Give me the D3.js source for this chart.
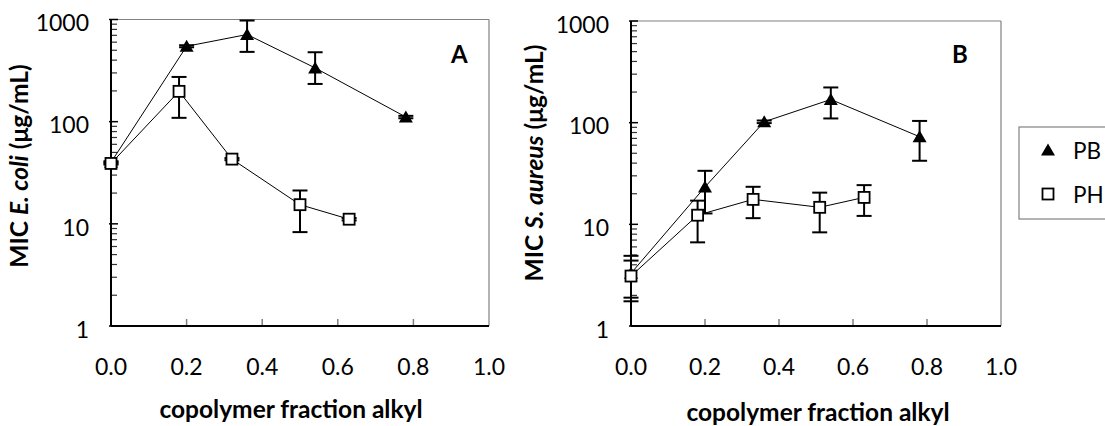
<!DOCTYPE html>
<html>
<head>
<meta charset="utf-8">
<script src="https://cdn.jsdelivr.net/npm/d3@7"></script>
<style>
  body { margin: 0; background: #fff; }
  text { font-family: Lato, "Liberation Sans", sans-serif; fill: #000; }
</style>
</head>
<body>
<div id="chart"></div>
<script>
// Data
const xTicks = [0, 0.2, 0.4, 0.6, 0.8, 1.0];
const yTicks = [1, 10, 100, 1000];

// Panel A: E. coli
const xA_PB = [0, 0.2, 0.36, 0.54, 0.78];
const micA_PB = [40, 547, 713, 336, 111];
const hiA_PB = [41, 560, 977, 478, 114];
const loA_PB = [39, 535, 482, 234, 108];

const xA_PH = [0, 0.18, 0.32, 0.50, 0.63];
const micA_PH = [39, 198, 43, 15.4, 11.1];
const hiA_PH = [40, 274, 44, 21.2, 11.4];
const loA_PH = [38, 109, 42, 8.3, 10.8];

// Panel B: S. aureus
const xB_PB = [0, 0.2, 0.36, 0.54, 0.78];
const micB_PB = [3.3, 23.3, 102, 169, 72.7];
const hiB_PB = [4.9, 33.6, 105, 222, 104];
const loB_PB = [1.9, 12.8, 99, 110, 42.2];

const xB_PH = [0, 0.18, 0.33, 0.51, 0.63];
const micB_PH = [3.1, 12.3, 17.6, 14.7, 18.4];
const hiB_PH = [4.4, 17.1, 23.4, 20.5, 24.3];
const loB_PH = [1.75, 6.65, 11.5, 8.34, 12.1];

const seriesNames = ["PB", "PH"];

const svg = d3.select("#chart")
  .append("svg")
  .attr("width", 1105)
  .attr("height", 426);

function zip(xs, ys, his, los) {
  return xs.map((x, i) => ({ x: x, y: ys[i], hi: his[i], lo: los[i] }));
}

const triPath = "M0,-6.5L7,5.5L-7,5.5Z";

function drawPanel(p) {
  const x = d3.scaleLinear().domain([0, 1]).range([p.left, p.right]);
  const y = d3.scaleLog().domain([1, 1000]).range([p.bottom, p.top]);
  const g = svg.append("g");

  // frame: top and right grey
  g.append("line").attr("x1", p.left).attr("x2", p.right).attr("y1", p.top).attr("y2", p.top)
    .attr("stroke", "#808080").attr("stroke-width", 1.2);
  g.append("line").attr("x1", p.right).attr("x2", p.right).attr("y1", p.top).attr("y2", p.bottom)
    .attr("stroke", "#808080").attr("stroke-width", 1.2);

  // x ticks (inside, grey)
  g.selectAll(".xt").data(xTicks.slice(1, -1)).enter().append("line")
    .attr("x1", d => x(d)).attr("x2", d => x(d))
    .attr("y1", p.bottom).attr("y2", p.bottom - 7)
    .attr("stroke", "#808080").attr("stroke-width", 1.5);

  // y minor ticks (log)
  const minors = [];
  for (let dec = 1; dec < 1000; dec *= 10) {
    for (let k = 2; k <= 9; k++) minors.push(dec * k);
  }
  g.selectAll(".ymin").data(minors).enter().append("line")
    .attr("x1", p.left).attr("x2", p.left + 6)
    .attr("y1", d => y(d)).attr("y2", d => y(d))
    .attr("stroke", "#333").attr("stroke-width", 1.2);
  g.selectAll(".ymaj").data(yTicks).enter().append("line")
    .attr("x1", p.left - 2).attr("x2", p.left + 7)
    .attr("y1", d => y(d)).attr("y2", d => y(d))
    .attr("stroke", "#000").attr("stroke-width", 1.5);

  // axes lines
  g.append("line").attr("x1", p.left).attr("x2", p.right).attr("y1", p.bottom).attr("y2", p.bottom)
    .attr("stroke", "#000").attr("stroke-width", 2);
  g.append("line").attr("x1", p.left).attr("x2", p.left).attr("y1", p.top).attr("y2", p.bottom)
    .attr("stroke", "#000").attr("stroke-width", 2);

  // tick labels
  g.selectAll(".yl").data(yTicks).enter().append("text")
    .attr("x", p.left - 22).attr("y", d => y(d) + 11.7)
    .attr("text-anchor", "end").style("font-size", "23px")
    .text(d => d);
  g.selectAll(".xl").data(xTicks).enter().append("text")
    .attr("x", d => x(d)).attr("y", 375)
    .attr("text-anchor", "middle").style("font-size", "23px")
    .text(d => d.toFixed(1));

  // axis titles
  g.append("text")
    .attr("x", p.xTitleX).attr("y", p.xTitleY)
    .attr("text-anchor", "middle").style("font-size", "24.5px").style("font-weight", "bold")
    .text("copolymer fraction alkyl");

  const yt = g.append("text")
    .attr("transform", "translate(" + p.yTitleX + "," + p.yTitleY + ") rotate(-90)")
    .attr("text-anchor", "middle").style("font-size", "24.5px").style("font-weight", "bold");
  yt.append("tspan").text("MIC ");
  yt.append("tspan").style("font-style", "italic").text(p.organism);
  yt.append("tspan").text(" (\u03bcg/mL)");

  // panel letter
  g.append("text")
    .attr("x", p.letterX).attr("y", 63)
    .style("font-size", "24px").style("font-weight", "bold")
    .text(p.letter);

  p.series.forEach(function(s) {
    const line = d3.line().x(d => x(d.x)).y(d => y(d.y));
    g.append("path").datum(s.data)
      .attr("d", line).attr("fill", "none")
      .attr("stroke", "#000").attr("stroke-width", 1);

    const eb = g.selectAll(null).data(s.data).enter().append("g");
    eb.append("line")
      .attr("x1", d => x(d.x)).attr("x2", d => x(d.x))
      .attr("y1", d => y(d.hi)).attr("y2", d => y(d.lo))
      .attr("stroke", "#000").attr("stroke-width", 2);
    eb.append("line")
      .attr("x1", d => x(d.x) - 7.5).attr("x2", d => x(d.x) + 7.5)
      .attr("y1", d => y(d.hi)).attr("y2", d => y(d.hi))
      .attr("stroke", "#000").attr("stroke-width", 2);
    eb.append("line")
      .attr("x1", d => x(d.x) - 7.5).attr("x2", d => x(d.x) + 7.5)
      .attr("y1", d => y(d.lo)).attr("y2", d => y(d.lo))
      .attr("stroke", "#000").attr("stroke-width", 2);

    if (s.name === "PB") {
      g.selectAll(null).data(s.data).enter().append("path")
        .attr("d", triPath)
        .attr("transform", d => "translate(" + x(d.x) + "," + y(d.y) + ")")
        .attr("fill", "#000");
    } else {
      g.selectAll(null).data(s.data).enter().append("rect")
        .attr("x", d => x(d.x) - 5.5).attr("y", d => y(d.y) - 5.5)
        .attr("width", 11).attr("height", 11)
        .attr("fill", "#fff").attr("stroke", "#000").attr("stroke-width", 1.8);
    }
  });
}

drawPanel({
  left: 111, right: 489, top: 19.5, bottom: 326,
  xTitleX: 291, xTitleY: 418, yTitleX: 28, yTitleY: 166,
  organism: "E. coli", letter: "A", letterX: 451,
  series: [
    { name: "PB", data: zip(xA_PB, micA_PB, hiA_PB, loA_PB) },
    { name: "PH", data: zip(xA_PH, micA_PH, hiA_PH, loA_PH) }
  ]
});

drawPanel({
  left: 631, right: 1001, top: 21, bottom: 326,
  xTitleX: 818, xTitleY: 421, yTitleX: 543, yTitleY: 163,
  organism: "S. aureus", letter: "B", letterX: 952,
  series: [
    { name: "PB", data: zip(xB_PB, micB_PB, hiB_PB, loB_PB) },
    { name: "PH", data: zip(xB_PH, micB_PH, hiB_PH, loB_PH) }
  ]
});

// Legend
const legend = svg.append("g");
legend.append("rect")
  .attr("x", 1019).attr("y", 127).attr("width", 120).attr("height", 92)
  .attr("fill", "#fff").attr("stroke", "#808080").attr("stroke-width", 1.2);
seriesNames.forEach(function(name, i) {
  const cy = 150 + i * 44;
  if (name === "PB") {
    legend.append("path").attr("d", triPath)
      .attr("transform", "translate(1048," + cy + ")").attr("fill", "#000");
  } else {
    legend.append("rect").attr("x", 1042.5).attr("y", cy - 5.5)
      .attr("width", 11).attr("height", 11)
      .attr("fill", "#fff").attr("stroke", "#000").attr("stroke-width", 1.8);
  }
  legend.append("text").attr("x", 1073).attr("y", cy + 9)
    .style("font-size", "22.5px").text(name);
});
</script>
</body>
</html>
